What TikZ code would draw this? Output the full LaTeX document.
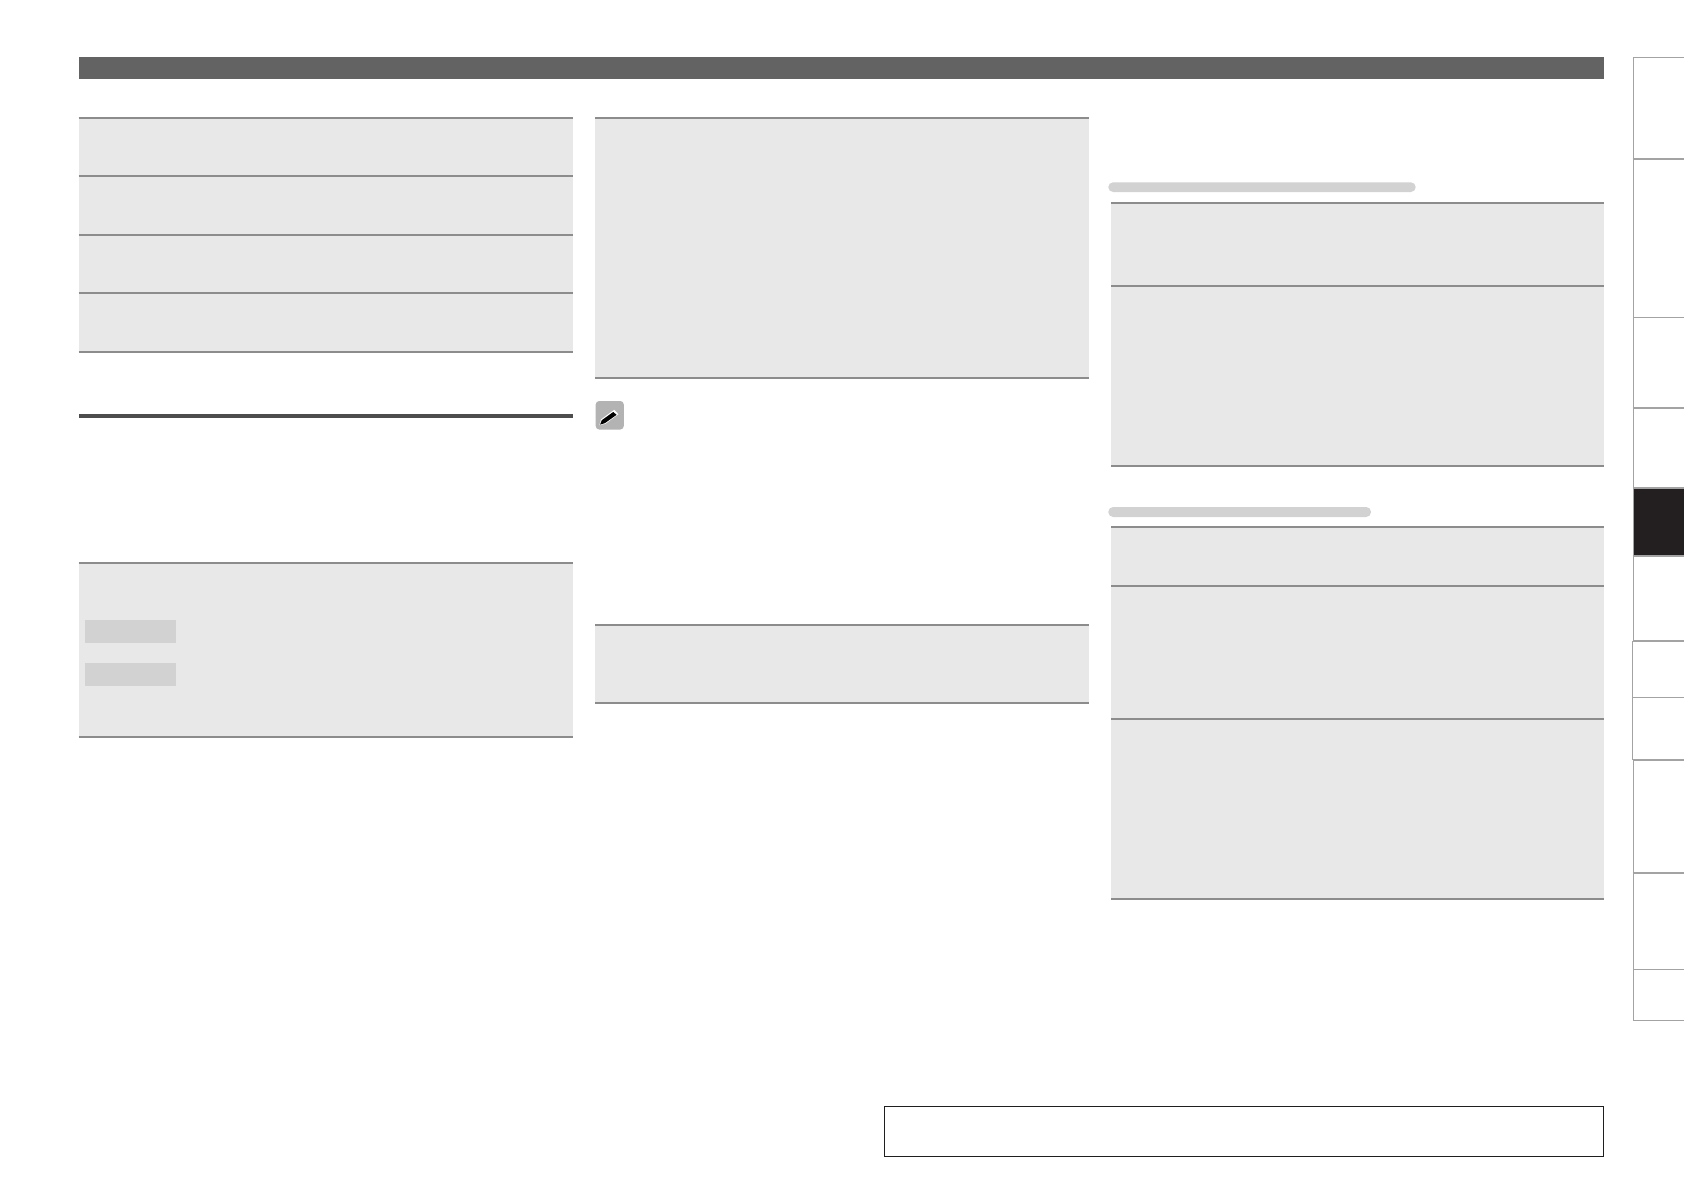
\documentclass[tikz,border=0pt]{standalone}
\definecolor{headbar}{HTML}{636363}
\definecolor{cellgrey}{HTML}{E8E8E8}
\definecolor{rulegrey}{HTML}{8C8C8C}
\definecolor{darkrule}{HTML}{4D4D4D}
\definecolor{labelgrey}{HTML}{D2D2D2}
\definecolor{tabline}{HTML}{A3A3A3}
\definecolor{tabdark}{HTML}{231F20}
\definecolor{icongrey}{HTML}{B3B3B3}
\tikzset{
  cellfill/.style={fill=cellgrey,draw=none},
  tablerule/.style={draw=rulegrey,line width=1.9pt},
  labelbar/.style={fill=labelgrey,draw=none},
  tabthin/.style={draw=tabline,line width=1pt},
  tabthick/.style={draw=tabline,line width=1.9pt},
  framebox/.style={draw=black!88,line width=1.1pt,fill=white},
}
\begin{document}
\begin{tikzpicture}[x=1pt,y=-1pt]
\useasboundingbox (0,0) rectangle (1684,1191);
\fill[white] (0,0) rectangle (1684,1191);
% header
\fill[headbar] (78.5,57) rectangle (1604,79);
% left column tables
\fill[cellfill] (78.5,118) rectangle (573,352);
\foreach \yy in {118,176,235,293,352}
  \draw[tablerule] (78.5,\yy) -- (573,\yy);
\fill[darkrule] (78.5,414) rectangle (573,418);
\fill[cellfill] (78.5,563) rectangle (573,737);
\foreach \yy in {563,737}
  \draw[tablerule] (78.5,\yy) -- (573,\yy);
\fill[labelbar] (85,620) rectangle (176,642.5);
\fill[labelbar] (85,663) rectangle (176,686);
% middle column tables
\fill[cellfill] (595,118) rectangle (1089,378);
\foreach \yy in {118,378}
  \draw[tablerule] (595,\yy) -- (1089,\yy);
\fill[cellfill] (595,625) rectangle (1089,703);
\foreach \yy in {625,703}
  \draw[tablerule] (595,\yy) -- (1089,\yy);
% pencil icon
\fill[icongrey,rounded corners=3.5pt] (595.7,401) rectangle (623.8,429.5);
\fill[white] (599.4,425.2) -- (601,419.4) -- (614.2,409.8) -- (618.4,414.2) -- (605.4,423.8) -- cycle;
\fill[black] (600,424.6) -- (601.8,420.2) -- (613.2,412) -- (616.6,414.8) -- (604.8,423.2) -- cycle;
% right column tables
\fill[labelbar,rounded corners=4.8pt] (1108.3,182.3) rectangle (1415.7,192);
\fill[cellfill] (1111,203) rectangle (1604,466);
\foreach \yy in {203,286,466}
  \draw[tablerule] (1111,\yy) -- (1604,\yy);
\fill[labelbar,rounded corners=4.8pt] (1108.3,507) rectangle (1371,517);
\fill[cellfill] (1111,527) rectangle (1604,899);
\foreach \yy in {527,586,719,899}
  \draw[tablerule] (1111,\yy) -- (1604,\yy);
% bottom frame
\draw[framebox] (884.5,1106.4) rectangle (1603.8,1156.7);
% side tabs
\fill[tabdark] (1633.7,488) rectangle (1684,556);
\draw[tabthin] (1633.7,57.5) -- (1633.7,641);
\draw[tabthin] (1632.7,641) -- (1632.7,760);
\draw[tabthin] (1633.7,760) -- (1633.7,1020.3);
\foreach \yy in {57.5,317,697,969.5,1020.3}
  \draw[tabthin] (1633.2,\yy) -- (1684,\yy);
\foreach \yy in {158.8,408,488,556,641,760,873}
  \draw[tabthick] (1632.7,\yy) -- (1684,\yy);
\end{tikzpicture}
\end{document}
